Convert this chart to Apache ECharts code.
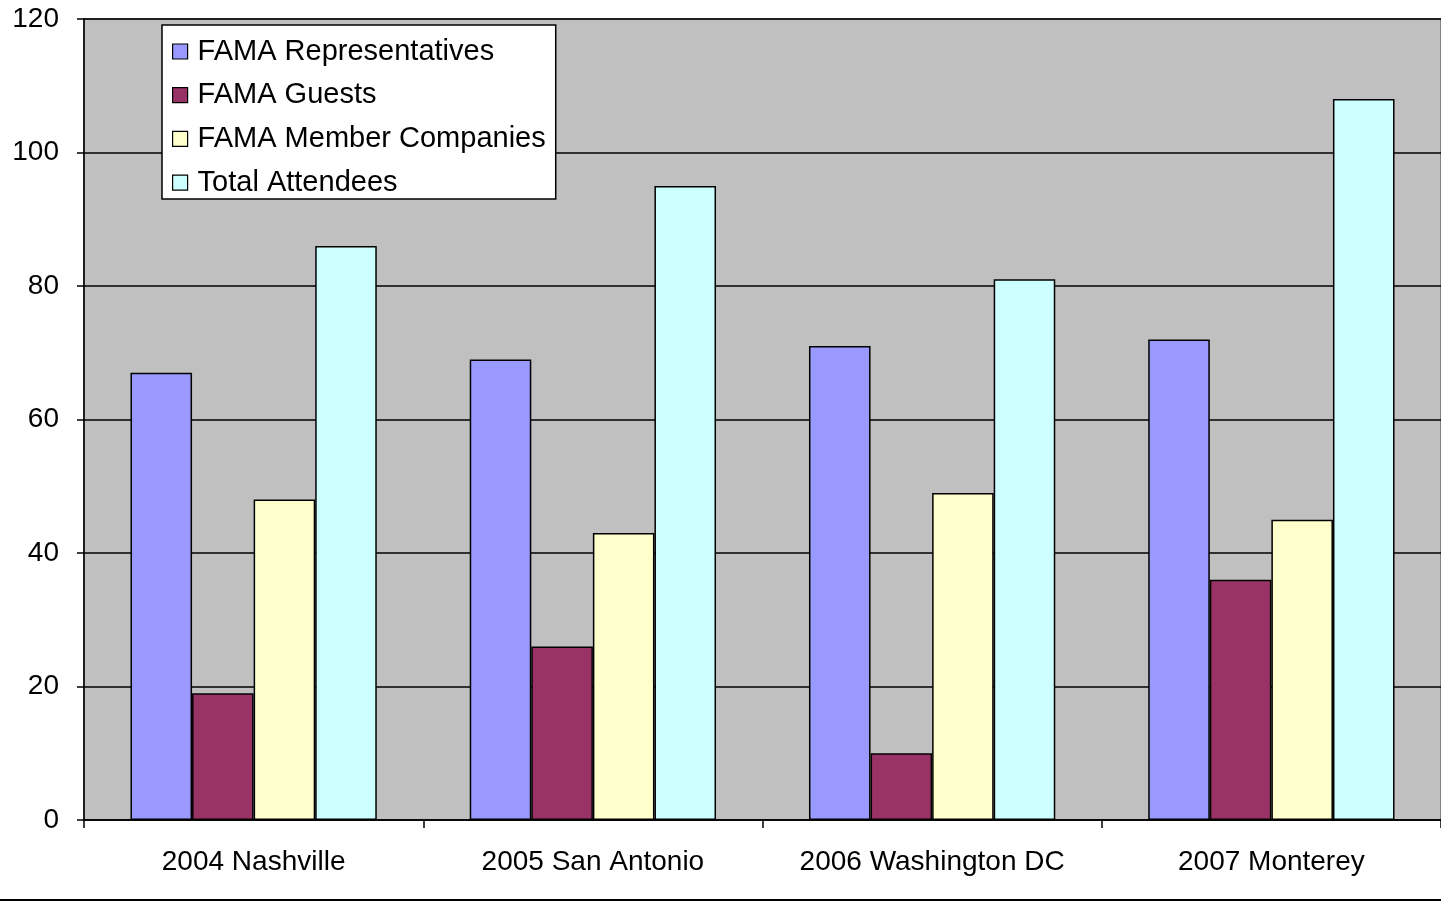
<!DOCTYPE html>
<html><head><meta charset="utf-8">
<script src="https://cdn.jsdelivr.net/npm/echarts@6/dist/echarts.min.js"></script>
<style>html,body{margin:0;padding:0;background:#fff;}#c{width:1441px;height:902px;}</style>
</head><body><div id="c"></div>
<script>
const categories = ['2004 Nashville', '2005 San Antonio', '2006 Washington DC', '2007 Monterey'];
const representatives = [67, 69, 71, 72];
const guests = [19, 26, 10, 36];
const memberCompanies = [48, 43, 49, 45];
const totalAttendees = [86, 95, 81, 108];
const seriesNames = ['FAMA Representatives', 'FAMA Guests', 'FAMA Member Companies', 'Total Attendees'];
const colors = ['#9999FF', '#993366', '#FFFFCC', '#CCFFFF'];

const chart = echarts.init(document.getElementById('c'));
const font = 'Liberation Sans, Arial, sans-serif';
const dataArr = [representatives, guests, memberCompanies, totalAttendees];
chart.setOption({
  animation: false,
  textStyle: { fontFamily: font },
  grid: { left: 84, right: -2, top: 19, bottom: 82, show: true, backgroundColor: '#C0C0C0', borderColor: '#808080', borderWidth: 2 },
  legend: {
    orient: 'vertical', left: 162, top: 25,
    backgroundColor: '#fff', borderColor: '#000', borderWidth: 1.5,
    padding: [12, 10, 2, 10],
    itemWidth: 15, itemHeight: 15, itemGap: 14.7,
    icon: 'rect',
    itemStyle: { borderColor: '#000', borderWidth: 1.2 },
    textStyle: { fontSize: 29, color: '#000', fontFamily: font, lineHeight: 28, padding: [0, 0, 0, 5] },
    data: seriesNames
  },
  xAxis: {
    type: 'category', data: categories,
    axisLine: { lineStyle: { color: '#000', width: 1.5 } },
    axisTick: { show: true, length: 8, interval: 0, lineStyle: { color: '#000', width: 1.5 } },
    axisLabel: { fontSize: 28, color: '#000', margin: 28, fontFamily: font, interval: 0 },
    splitLine: { show: false }
  },
  yAxis: {
    type: 'value', min: 0, max: 120, interval: 20,
    axisLine: { show: true, lineStyle: { color: '#000', width: 1.5 } },
    axisTick: { show: true, length: 7, lineStyle: { color: '#000', width: 1.5 } },
    axisLabel: { fontSize: 28, color: '#000', margin: 25, fontFamily: font },
    splitLine: { show: true, lineStyle: { color: '#000', width: 1.5 } }
  },
  series: seriesNames.map((n, i) => ({
    name: n, type: 'bar', data: dataArr[i],
    barGap: '0%', barCategoryGap: '27.4%',
    itemStyle: { color: colors[i], borderColor: '#000', borderWidth: 1.5 }
  })),
  graphic: [{ type: 'rect', left: 0, top: 899, shape: { width: 1441, height: 2 }, style: { fill: '#000' } }]
});
</script></body></html>
